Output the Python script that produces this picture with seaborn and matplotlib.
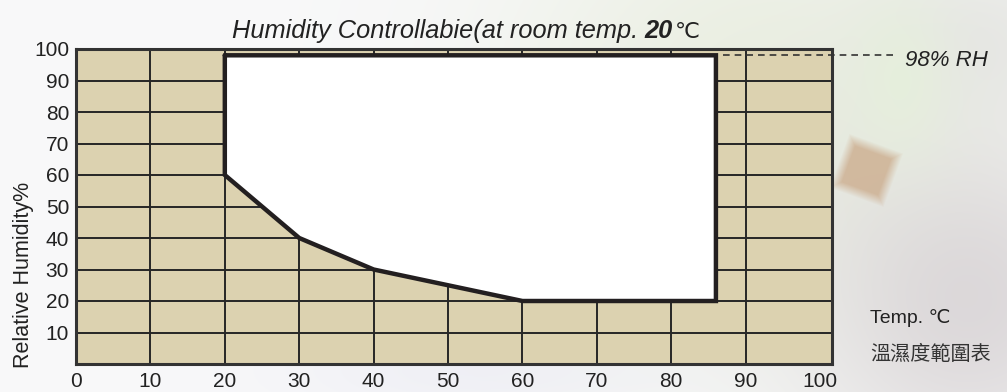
import numpy as np
import pandas as pd
import matplotlib
matplotlib.use("Agg")
import matplotlib.pyplot as plt
import seaborn as sns

# Controllable range boundary (temperature °C, relative humidity %)
temp_bound = [20, 86, 86, 60, 40, 30, 20, 20]
rh_bound = [98, 98, 20, 20, 30, 40, 60, 98]
rh_max = 98

x_ticks = [0, 10, 20, 30, 40, 50, 60, 70, 80, 90, 100]
y_ticks = [10, 20, 30, 40, 50, 60, 70, 80, 90, 100]

title_main = "Humidity Controllabie(at room temp. "
title_num = "20"
title_unit = "℃"
rh_label = "98% RH"
x_label = "Temp. ℃"
table_label = "溫濕度範圍表"
y_label = "Relative Humidity%"

sns.set_theme(style="white")
plt.rcParams["font.family"] = ["Liberation Sans", "DejaVu Sans", "Noto Sans CJK TC"]

fig = plt.figure(figsize=(10.07, 3.92), dpi=100)

# soft photographic backdrop
bg = fig.add_axes([0, 0, 1, 1], zorder=-10)
H, W = 392, 1007
yy, xx = np.mgrid[0:H, 0:W]
base = np.ones((H, W, 3)) * np.array([0.975, 0.975, 0.98])
def blob(cx, cy, sx, sy, col, a):
    g = np.exp(-(((xx - cx) / sx) ** 2 + ((yy - cy) / sy) ** 2))[..., None] * a
    return g, np.array(col)
def tilted_square(cx, cy, half, angle, soft, col, a):
    t = np.deg2rad(angle)
    u = (xx - cx) * np.cos(t) + (yy - cy) * np.sin(t)
    v = -(xx - cx) * np.sin(t) + (yy - cy) * np.cos(t)
    d = np.maximum(np.abs(u), np.abs(v))
    g = np.clip((half - d) / soft + 0.5, 0, 1)[..., None] * a
    return g, np.array(col)
layers = [
    blob(760, 110, 260, 240, [0.91, 0.93, 0.87], 0.9),
    blob(970, 300, 170, 170, [0.84, 0.82, 0.83], 0.8),
    blob(980, 40, 120, 90, [0.88, 0.88, 0.87], 0.6),
    blob(900, 80, 50, 80, [0.90, 0.94, 0.86], 0.8),
    tilted_square(866, 170, 24, 20, 10, [0.80, 0.68, 0.56], 0.8),
    blob(470, 370, 200, 50, [0.91, 0.91, 0.95], 0.5),
]
img = base.copy()
for g, col in layers:
    img = img * (1 - g) + col * g
bg.imshow(img, aspect="auto", extent=[0, 1, 0, 1], interpolation="bilinear")
bg.axis("off")

ax = fig.add_axes([76 / 1007, 28 / 392, (832 - 76) / 1007, (364 - 49) / 392])
ax.set_facecolor("#dcd2b0")
ax.set_xlim(0, 101.6)
ax.set_ylim(0, 100)

# grid
for v in x_ticks[1:-1]:
    ax.axvline(v, color="#262626", lw=1.4, zorder=1)
for v in y_ticks[:-1]:
    ax.axhline(v, color="#262626", lw=1.4, zorder=1)

# controllable region
ax.fill(temp_bound, rh_bound, color="white", zorder=2)
df = pd.DataFrame({"temp": temp_bound, "rh": rh_bound})
sns.lineplot(data=df, x="temp", y="rh", sort=False, color="#231f20", lw=3.2,
             ax=ax, zorder=3, estimator=None)
ax.lines[-1].set_solid_joinstyle("miter")

# RH leader line
ax.plot([temp_bound[1] + 1, 110.5], [rh_max, rh_max], ls=(0, (4, 3)), color="#333333",
        lw=1.2, clip_on=False, zorder=4)

for s in ax.spines.values():
    s.set_color("#333333")
    s.set_linewidth(2.2)
    s.set_zorder(5)

ax.set_xticks(x_ticks)
ax.set_yticks(y_ticks)
ax.set_xticklabels([str(v) for v in x_ticks], fontsize=15, color="#222222")
ax.set_yticklabels([str(v) for v in y_ticks], fontsize=15, color="#222222")
ax.tick_params(axis="both", length=0)
ax.tick_params(axis="x", pad=6)
ax.tick_params(axis="y", pad=5)
ax.set_xlabel("")
ax.set_ylabel(y_label, fontsize=15.5, color="#222222")
ax.yaxis.set_label_coords(-0.056, 0.283)

# title pieces
ty = 1 - 38 / 392
t1 = fig.text(0.23, ty, title_main, fontsize=18.3, style="italic",
              color="#222222", va="baseline", ha="left")
fig.canvas.draw()
bb = t1.get_window_extent()
t2 = fig.text(bb.x1 / 1007, ty, title_num, fontsize=18.3, style="italic",
              weight="bold", color="#222222", va="baseline", ha="left")
fig.canvas.draw()
bb2 = t2.get_window_extent()
fig.text(bb2.x1 / 1007 + 0.002, ty, title_unit, fontsize=16, color="#222222",
         va="baseline", ha="left", family=["DejaVu Sans", "Noto Sans CJK TC"])

fig.text(0.899, 1 - 61 / 392, rh_label, fontsize=16, style="italic", color="#222222",
         va="center", ha="left")
fig.text(0.864, 1 - 318 / 392, x_label, fontsize=14, color="#222222",
         va="center", ha="left", family=["Liberation Sans", "DejaVu Sans"])
fig.text(0.864, 1 - 354 / 392, table_label, fontsize=14.5, color="#333333",
         va="center", ha="left", family=["Noto Sans CJK TC", "DejaVu Sans"])

fig.savefig("out.png", dpi=100)
